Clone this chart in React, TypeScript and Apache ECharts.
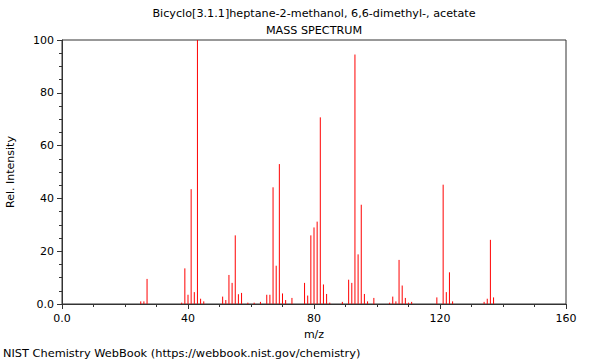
import React, { useEffect, useRef } from "react";
import * as echarts from "echarts";

const mz = [25, 26, 27, 38, 39, 40, 41, 42, 43, 44, 45, 51, 52, 53, 54, 55, 56, 57, 59, 61, 63, 65, 66, 67, 68, 69, 70, 71, 73, 77, 78, 79, 80, 81, 82, 83, 84, 85, 89, 91, 92, 93, 94, 95, 96, 97, 99, 104, 105, 106, 107, 108, 109, 110, 111, 119, 121, 122, 123, 124, 134, 135, 136, 137];
const intensity = [1, 1, 9.5, 0.5, 13.5, 3.5, 43.5, 4.5, 100, 2, 1, 2.8, 1.5, 11, 8, 26, 3.7, 4.2, 0.5, 0.5, 0.8, 3.5, 3.5, 44.2, 14.5, 53, 4, 1.5, 2.3, 8, 3.2, 26, 29, 31.2, 70.7, 7.4, 3.8, 0.5, 0.8, 9.2, 8, 94.5, 18.8, 37.6, 3.8, 1, 2.3, 0.5, 2.8, 1, 16.7, 7, 2.3, 0.5, 0.8, 2.5, 45.2, 4.5, 12, 1, 0.8, 2, 24.3, 2.5];

const titleText = "Bicyclo[3.1.1]heptane-2-methanol, 6,6-dimethyl-, acetate";
const subTitleText = "MASS SPECTRUM";
const xName = "m/z";
const yName = "Rel. Intensity";
const footer = "NIST Chemistry WebBook (https://webbook.nist.gov/chemistry)";

const FONT = "DejaVu Sans";

export default function App() {
  const ref = useRef<HTMLDivElement>(null);
  useEffect(() => {
    if (!ref.current) return;
    const chart = echarts.init(ref.current, null, { renderer: "svg" });
    const data = mz.map((m, i) => [m, intensity[i]]);
    const fmt = (v: number) => (v === 0 ? "0.0" : String(v));
    chart.setOption({
      animation: false,
      grid: {
        left: 62,
        right: 34,
        top: 40,
        bottom: 56,
        containLabel: false,
        outerBoundsMode: "none",
        show: true,
        borderColor: "#333",
        borderWidth: 1,
      },
      graphic: [
        {
          type: "text",
          x: 314,
          y: 13,
          style: {
            text: titleText,
            fill: "#000",
            font: `11.2px "${FONT}"`,
            textAlign: "center",
            textVerticalAlign: "middle",
          },
        },
        {
          type: "text",
          x: 314,
          y: 30,
          style: {
            text: subTitleText,
            fill: "#000",
            font: `11.2px "${FONT}"`,
            textAlign: "center",
            textVerticalAlign: "middle",
          },
        },
        {
          type: "text",
          x: 3,
          y: 353,
          style: {
            text: footer,
            fill: "#000",
            font: `11.35px "${FONT}"`,
            textAlign: "left",
            textVerticalAlign: "middle",
          },
        },
      ],
      xAxis: {
        type: "value",
        min: 0,
        max: 160,
        interval: 40,
        name: xName,
        nameLocation: "middle",
        nameGap: 23,
        nameTextStyle: { color: "#000", fontFamily: FONT, fontSize: 11 },
        axisLine: { show: true, lineStyle: { color: "#333" } },
        axisTick: { show: true, length: 5, inside: false, lineStyle: { color: "#333" } },
        minorTick: { show: true, splitNumber: 4, length: 3, lineStyle: { color: "#333" } },
        splitLine: { show: false },
        axisLabel: { color: "#000", fontFamily: FONT, fontSize: 11, margin: 9, formatter: fmt },
      },
      yAxis: {
        type: "value",
        min: 0,
        max: 100,
        interval: 20,
        name: yName,
        nameLocation: "middle",
        nameGap: 46,
        nameRotate: 90,
        nameTextStyle: { color: "#000", fontFamily: FONT, fontSize: 11 },
        axisLine: { show: true, lineStyle: { color: "#333" } },
        axisTick: { show: true, length: 5, inside: false, lineStyle: { color: "#333" } },
        minorTick: { show: true, splitNumber: 4, length: 3, lineStyle: { color: "#333" } },
        splitLine: { show: false },
        axisLabel: { color: "#000", fontFamily: FONT, fontSize: 11, margin: 8, formatter: fmt },
      },
      series: [
        {
          type: "custom",
          data,
          clip: true,
          renderItem: (params: any, api: any) => {
            const x = api.value(0);
            const y = api.value(1);
            const p0 = api.coord([x, 0]);
            const p1 = api.coord([x, y]);
            return {
              type: "line",
              shape: { x1: p0[0], y1: p0[1], x2: p1[0], y2: p1[1] },
              style: { stroke: "#ff0000", lineWidth: 1 },
            };
          },
        },
      ],
    });
    return () => chart.dispose();
  }, []);
  return (
    <div
      ref={ref}
      style={{ position: "fixed", left: 0, top: 0, width: 600, height: 360, background: "#fff" }}
    />
  );
}
